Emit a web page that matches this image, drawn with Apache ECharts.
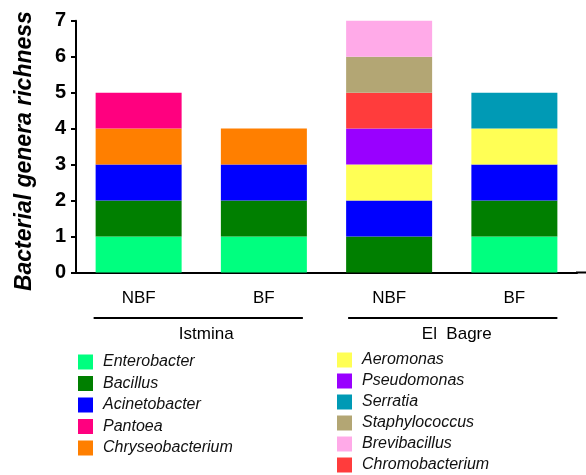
<!DOCTYPE html>
<html>
<head>
<meta charset="utf-8">
<script src="https://cdn.jsdelivr.net/npm/echarts@6/dist/echarts.min.js"></script>
<style>html,body{margin:0;padding:0;background:#fff;}#c{width:586px;height:475px;}</style>
</head>
<body>
<div id="c"></div>
<script>
var categories = ['NBF', 'BF', 'NBF', 'BF'];
var groups = ['Istmina', 'El  Bagre'];
var yTicks = [0, 1, 2, 3, 4, 5, 6, 7];

var enterobacter     = [1, 1, 0, 1];
var bacillus         = [1, 1, 1, 1];
var acinetobacter    = [1, 1, 1, 1];
var chryseobacterium = [1, 1, 0, 0];
var pantoea          = [1, 0, 0, 0];
var aeromonas        = [0, 0, 1, 1];
var pseudomonas      = [0, 0, 1, 0];
var serratia         = [0, 0, 0, 1];
var chromobacterium  = [0, 0, 1, 0];
var staphylococcus   = [0, 0, 1, 0];
var brevibacillus    = [0, 0, 1, 0];

var seriesDefs = [
  ['Enterobacter', enterobacter, '#00FF7F'],
  ['Bacillus', bacillus, '#007F00'],
  ['Acinetobacter', acinetobacter, '#0000FF'],
  ['Chryseobacterium', chryseobacterium, '#FF7F00'],
  ['Pantoea', pantoea, '#FF007F'],
  ['Aeromonas', aeromonas, '#FFFF55'],
  ['Pseudomonas', pseudomonas, '#9900FF'],
  ['Serratia', serratia, '#009AB5'],
  ['Chromobacterium', chromobacterium, '#FF3C3C'],
  ['Staphylococcus', staphylococcus, '#B3A674'],
  ['Brevibacillus', brevibacillus, '#FFAAE8']
];

var legendLeft = ['Enterobacter', 'Bacillus', 'Acinetobacter', 'Pantoea', 'Chryseobacterium'];
var legendRight = ['Aeromonas', 'Pseudomonas', 'Serratia', 'Staphylococcus', 'Brevibacillus', 'Chromobacterium'];

var chart = echarts.init(document.getElementById('c'), null, {renderer: 'canvas'});

var series = seriesDefs.map(function (d) {
  return {
    name: d[0], type: 'bar', stack: 'all', data: d[1], barWidth: 86,
    itemStyle: {color: d[2]}, xAxisIndex: 0, yAxisIndex: 0
  };
});

var legendText = {fontFamily: 'Liberation Sans', fontStyle: 'italic', fontSize: 16,
  color: '#111', padding: [0, 0, 0, 5]};

var option = {
  animation: false,
  backgroundColor: '#fff',
  grid: {left: 76, right: 9, top: 20.7, bottom: 202.5},
  legend: [
    {data: legendLeft, orient: 'vertical', left: 78, top: 354, itemWidth: 15, itemHeight: 15, itemGap: 5.5,
     padding: 0, icon: 'rect', textStyle: legendText, selectedMode: false},
    {data: legendRight, orient: 'vertical', left: 337, top: 352, itemWidth: 15, itemHeight: 15, itemGap: 5,
     padding: 0, icon: 'rect', textStyle: legendText, selectedMode: false}
  ],
  xAxis: [
    {type: 'category', data: categories, position: 'bottom',
     axisLine: {lineStyle: {color: '#000', width: 2}},
     axisTick: {alignWithLabel: true, length: 5, lineStyle: {color: '#000', width: 2}},
     axisLabel: {margin: 17, fontFamily: 'Liberation Sans', fontSize: 17, color: '#000'}},
    {type: 'category', data: groups, position: 'bottom', offset: 45,
     axisLine: {show: false}, axisTick: {show: false},
     axisLabel: {margin: 8, fontFamily: 'Liberation Sans', fontSize: 17, color: '#000', padding: [0, 0, 0, 10]}}
  ],
  yAxis: {
    type: 'value', min: 0, max: 7, interval: 1,
    name: 'Bacterial genera richness', nameLocation: 'middle', nameGap: 40, nameRotate: 90,
    nameTextStyle: {fontFamily: 'Liberation Sans', fontStyle: 'italic', fontWeight: 'bold', fontSize: 23, color: '#000', padding: [0, 9, 0, 0]},
    axisLine: {show: true, lineStyle: {color: '#000', width: 2}},
    axisTick: {show: true, length: 5, lineStyle: {color: '#000', width: 2}},
    splitLine: {show: false},
    axisLabel: {margin: 10, fontFamily: 'Liberation Sans', fontWeight: 'bold', fontSize: 20, color: '#000',
      formatter: function (v) { return yTicks.indexOf(v) >= 0 ? String(v) : ''; }}
  },
  series: series
};
chart.setOption(option);

// group underline annotations under the category labels
var p1 = chart.convertToPixel({xAxisIndex: 0}, 0);
var p2 = chart.convertToPixel({xAxisIndex: 0}, 1);
var p3 = chart.convertToPixel({xAxisIndex: 0}, 2);
var p4 = chart.convertToPixel({xAxisIndex: 0}, 3);
chart.setOption({
  graphic: [
    {type: 'line', shape: {x1: p1 - 45, y1: 318, x2: p2 + 39, y2: 318}, style: {stroke: '#000', lineWidth: 2}},
    {type: 'line', shape: {x1: p3 - 41, y1: 318, x2: p4 + 43, y2: 318}, style: {stroke: '#000', lineWidth: 2}},
    {type: 'line', shape: {x1: 576, y1: 272.5, x2: 586, y2: 272.5}, style: {stroke: '#000', lineWidth: 2}}
  ]
});
</script>
</body>
</html>
